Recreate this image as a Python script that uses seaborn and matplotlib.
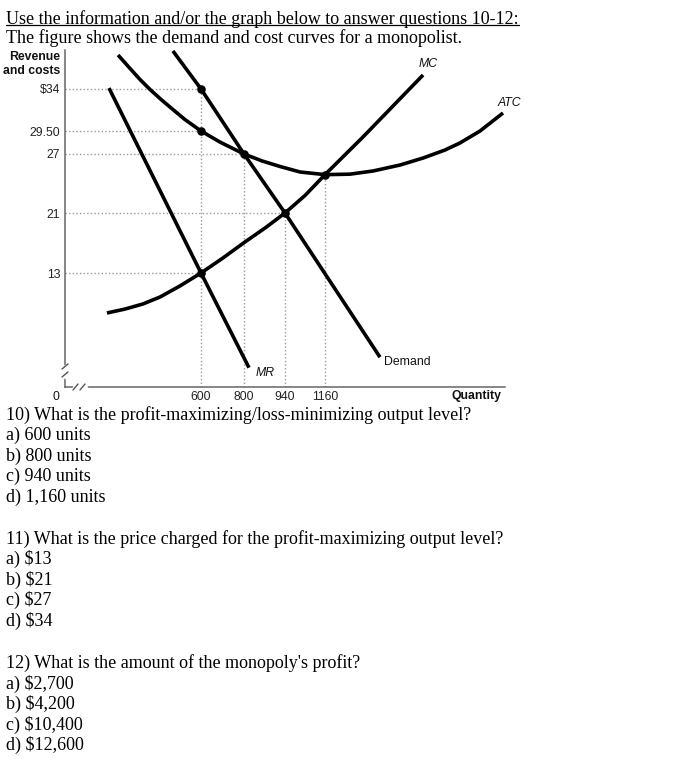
import numpy as np
import pandas as pd
import matplotlib
matplotlib.use("Agg")
import matplotlib.pyplot as plt
import seaborn as sns
from matplotlib.lines import Line2D

# ---------------- data (quantity, $) ----------------
demand_q = [476, 600, 800, 940, 1409]
demand_p = [38.1, 34, 27, 21, 3.4]
mr_q = [194, 600, 817]
mr_p = [34.1, 13, 2.2]
atc_q = [234, 287, 331, 375, 419, 463, 529, 600, 688, 800, 862, 923, 1023,
         1160, 1273, 1377, 1500, 1604, 1703, 1771, 1862, 1966]
atc_p = [37.66, 36.21, 35.02, 33.95, 32.98, 32.07, 30.73, 29.5, 28.3, 27, 26.29,
         25.73, 25.17, 24.9, 24.95, 25.27, 25.88, 26.59, 27.43, 28.2, 29.5, 31.43]
mc_q = [185, 265, 344, 419, 507, 600, 702, 803, 872, 940, 1050, 1160, 1332, 1468, 1604]
mc_p = [8.44, 8.89, 9.47, 10.26, 11.52, 13, 15.0, 17.13, 19.0, 21, 22.78, 24.9,
        28.85, 32.18, 35.51]

x_ticks = [600, 800, 940, 1160]
x_labels = ["600", "800", "940", "1160"]
x_guide_top = [34, 27, 21, 24.9]
y_ticks = [13, 21, 27, 29.5, 34]
y_labels = ["13", "21", "27", "29.50", "$34"]
y_guide_end = [600, 940, 800, 600, 600]
point_q = [600, 600, 800, 940, 1160, 600]
point_p = [34, 29.5, 27, 21, 24.9, 13]

title_lines = ["Use the information and/or the graph below to answer questions 10-12:",
               "The figure shows the demand and cost curves for a monopolist."]
questions = [
    ["10) What is the profit-maximizing/loss-minimizing output level?",
     "a) 600 units", "b) 800 units", "c) 940 units", "d) 1,160 units"],
    ["11) What is the price charged for the profit-maximizing output level?",
     "a) $13", "b) $21", "c) $27", "d) $34"],
    ["12) What is the amount of the monopoly's profit?",
     "a) $2,700", "b) $4,200", "c) $10,400", "d) $12,600"],
]

# ---------------- schematic (not-to-scale) axis mapping ----------------
x_anchor_q = np.array([0, 600, 800, 940, 1160, 1975], float)
x_anchor_px = np.array([65, 201, 244, 285, 325, 505], float)
y_anchor_v = np.array([0, 13, 21, 27, 29.5, 34, 38.2], float)
y_anchor_h = np.array([0, 114, 174, 233, 256, 298, 337], float)

def xf(v): return np.interp(v, x_anchor_q, x_anchor_px)
def xi(v): return np.interp(v, x_anchor_px, x_anchor_q)
def yf(v): return np.interp(v, y_anchor_v, y_anchor_h)
def yi(v): return np.interp(v, y_anchor_h, y_anchor_v)

sns.set_theme(style="white")
plt.rcParams['font.family'] = ['Liberation Sans', 'DejaVu Sans']

W, H = 699, 766
fig = plt.figure(figsize=(W / 100, H / 100), dpi=100)

def fx(px): return px / W
def fy(py): return 1 - py / H

ax_left, ax_right, ax_top, ax_bot = 65, 505, 50, 387
ax = fig.add_axes([fx(ax_left), fy(ax_bot), (ax_right - ax_left) / W, (ax_bot - ax_top) / H])
ax.set_xscale('function', functions=(xf, xi))
ax.set_yscale('function', functions=(yf, yi))

guide_kw = dict(color='#9a9a9a', lw=1.0, linestyles=(0, (1, 1.6)), zorder=1)
ax.hlines(y_ticks, 0, y_guide_end, **guide_kw)
ax.vlines(x_ticks, 0, x_guide_top, **guide_kw)

curves = pd.concat([
    pd.DataFrame({'q': demand_q, 'p': demand_p, 'curve': 'Demand'}),
    pd.DataFrame({'q': mr_q, 'p': mr_p, 'curve': 'MR'}),
    pd.DataFrame({'q': atc_q, 'p': atc_p, 'curve': 'ATC'}),
    pd.DataFrame({'q': mc_q, 'p': mc_p, 'curve': 'MC'}),
])
for name, d in curves.groupby('curve', sort=False):
    sns.lineplot(data=d, x='q', y='p', sort=False, estimator=None, color='black',
                 lw=2.6, ax=ax, zorder=3, clip_on=False, solid_capstyle='butt',
                 solid_joinstyle='round')

sns.scatterplot(x=point_q, y=point_p, color='black', s=38, edgecolor='black',
                linewidth=0, ax=ax, zorder=4, clip_on=False)

ax.set_xlim(0, 1975)
ax.set_ylim(0, 38.2)
ax.set_xlabel('')
ax.set_ylabel('')
ax.set_xticks(x_ticks)
ax.set_xticklabels(x_labels)
ax.set_yticks(y_ticks)
ax.set_yticklabels(y_labels)
ax.tick_params(axis='both', length=0, labelsize=8.8, colors='#222222')
ax.tick_params(axis='x', pad=3.2)
ax.tick_params(axis='y', pad=3.5)
for s in ['top', 'right']:
    ax.spines[s].set_visible(False)
for s in ['left', 'bottom']:
    ax.spines[s].set_color('#666666')
    ax.spines[s].set_linewidth(1.1)

# axis break marks
def fline(x0, y0, x1, y1, **kw):
    fig.add_artist(Line2D([fx(x0), fx(x1)], [fy(y0), fy(y1)], transform=fig.transFigure, **kw))
fline(65, 366, 65, 377, color='white', lw=2.5)
fline(62, 369, 68, 364, color='#555555', lw=1.0)
fline(62, 377, 68, 372, color='#555555', lw=1.0)
fline(74, 387, 86, 387, color='white', lw=2.5)
fline(73, 390, 78, 384, color='#555555', lw=1.0)
fline(80, 390, 85, 384, color='#555555', lw=1.0)

# chart labels
lab = dict(fontsize=8.8, color='#111111')
fig.text(fx(60), fy(57), "Revenue", ha='right', va='center', fontweight='bold', **lab)
fig.text(fx(60), fy(71), "and costs", ha='right', va='center', fontweight='bold', **lab)
fig.text(fx(428), fy(64), "MC", ha='center', va='center', style='italic', **lab)
fig.text(fx(509), fy(103), "ATC", ha='center', va='center', style='italic', **lab)
fig.text(fx(265), fy(373), "MR", ha='center', va='center', style='italic', **lab)
fig.text(fx(407), fy(362), "Demand", ha='center', va='center', **lab)
fig.text(fx(502), fy(396), "Quantity", ha='right', va='center', fontweight='bold', **lab)
fig.text(fx(56), fy(397), "0", ha='center', va='center', **lab)

# question text
serif = dict(family=['Liberation Serif', 'DejaVu Serif'], fontsize=13, color='black')
title_base = [23.5, 43]
t0 = fig.text(fx(6), fy(title_base[0]), title_lines[0], ha='left', va='baseline', **serif)
fig.text(fx(6), fy(title_base[1]), title_lines[1], ha='left', va='baseline', **serif)
block_base = [420, 544, 668.3]
for qi, block in enumerate(questions):
    for li, line in enumerate(block):
        fig.text(fx(6), fy(block_base[qi] + li * 20.4), line, ha='left', va='baseline', **serif)

fig.canvas.draw()
bb = t0.get_window_extent(fig.canvas.get_renderer())
fig.add_artist(Line2D([bb.x0 / W, bb.x1 / W], [fy(title_base[0] + 1.8)] * 2,
                      transform=fig.transFigure, color='black', lw=0.9))

fig.savefig("out.png", dpi=100)
